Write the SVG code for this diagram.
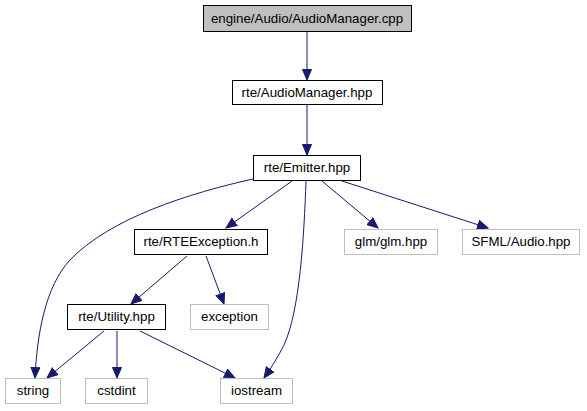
<svg xmlns="http://www.w3.org/2000/svg" width="587" height="411" viewBox="0 0 587 411">
<style>
.n rect{fill:#fff;stroke:#000;stroke-width:1}
.n.root rect{fill:#bfbfbf}
.n.ext rect{stroke:#bfbfbf}
text{font-family:"Liberation Sans",Arial,sans-serif;font-size:13.3px;fill:#000;text-anchor:middle}
.e path{fill:none;stroke:#191970;stroke-width:1;marker-end:url(#arr)}
</style>
<defs>
<marker id="arr" markerUnits="userSpaceOnUse" markerWidth="13" markerHeight="11" refX="11" refY="5" orient="auto">
<path d="M0.5,0.5 L11,5 L0.5,9.5 z" fill="#191970" stroke="#191970" stroke-width="1"/>
</marker>
</defs>
<rect width="587" height="411" fill="#fff"/>
<g id="edges" class="e">
<path d="M307,32 V80"/>
<path d="M307,105 V155"/>
<path d="M292,181 L226,228"/>
<path d="M322,181 L378,228"/>
<path d="M342,181 L488,228"/>
<path d="M306,181 C304,236 300,310 284,345 C278,357 271,368 264,378"/>
<path d="M253,179 C190,193 110,218 70,260 C45,287 37,335 35,378"/>
<path d="M187,256 L131,304"/>
<path d="M206,256 L224,304"/>
<path d="M104,331 L47,378"/>
<path d="M117,331 V378"/>
<path d="M140,331 L235,378"/>
</g>
<g id="n_cpp" class="n root"><rect x="203.5" y="5.5" width="208" height="26"/><text x="307" y="23">engine/Audio/AudioManager.cpp</text></g>
<g id="n_amh" class="n"><rect x="232.5" y="80.5" width="150" height="24"/><text x="307" y="97">rte/AudioManager.hpp</text></g>
<g id="n_emitter" class="n"><rect x="253.5" y="155.5" width="107" height="25"/><text x="307" y="172">rte/Emitter.hpp</text></g>
<g id="n_rteex" class="n"><rect x="134.5" y="229.5" width="133" height="25"/><text x="201" y="246">rte/RTEException.h</text></g>
<g id="n_glm" class="n ext"><rect x="344.5" y="229.5" width="93" height="25"/><text x="391" y="246">glm/glm.hpp</text></g>
<g id="n_sfml" class="n ext"><rect x="462.5" y="229.5" width="117" height="25"/><text x="521" y="246">SFML/Audio.hpp</text></g>
<g id="n_util" class="n"><rect x="67.5" y="304.5" width="98" height="25"/><text x="116.5" y="321">rte/Utility.hpp</text></g>
<g id="n_exc" class="n ext"><rect x="190.5" y="304.5" width="78" height="25"/><text x="229.5" y="321">exception</text></g>
<g id="n_string" class="n ext"><rect x="5.5" y="378.5" width="55" height="25"/><text x="33" y="395">string</text></g>
<g id="n_cstdint" class="n ext"><rect x="85.5" y="378.5" width="62" height="25"/><text x="116.5" y="395">cstdint</text></g>
<g id="n_iostream" class="n ext"><rect x="220.5" y="378.5" width="72" height="25"/><text x="256.5" y="395">iostream</text></g>
</svg>
